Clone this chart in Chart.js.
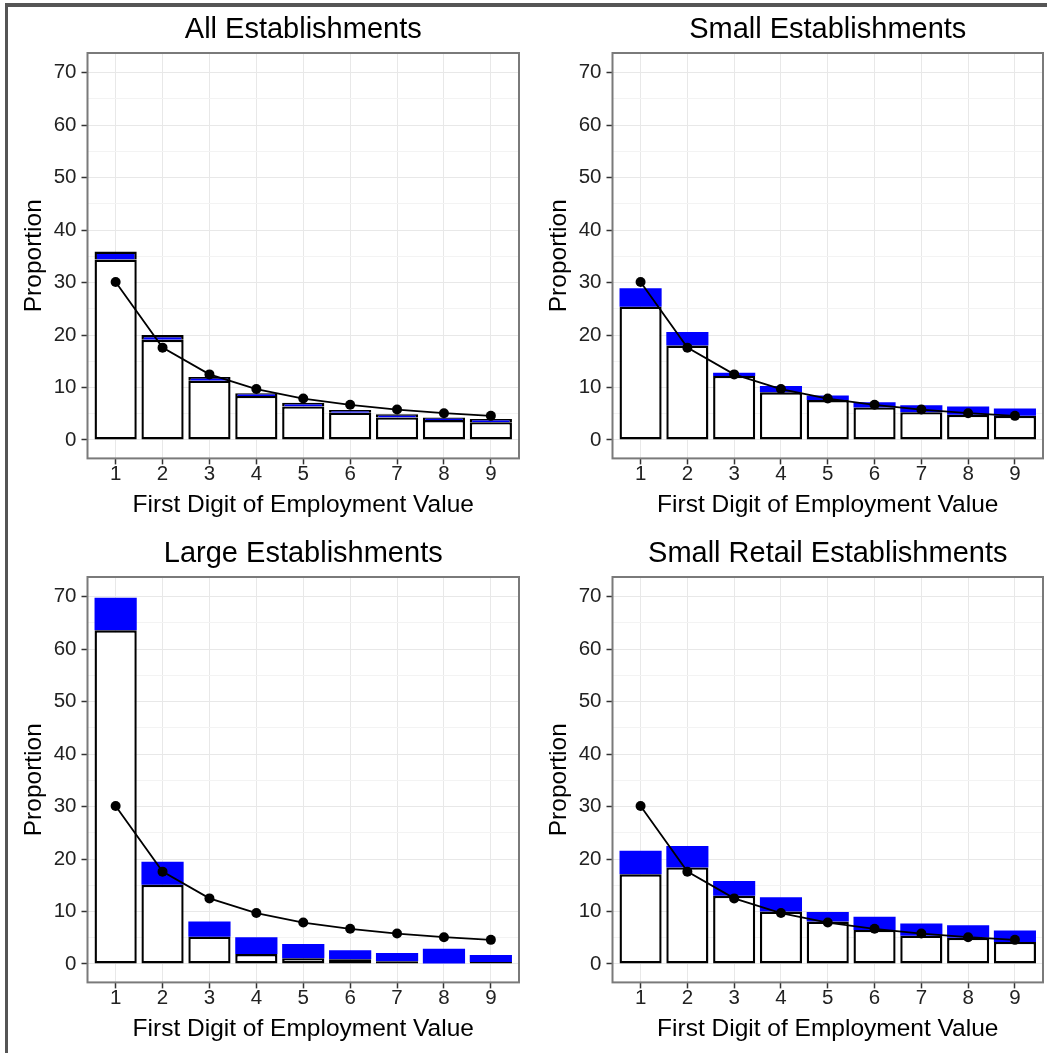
<!DOCTYPE html>
<html>
<head>
<meta charset="utf-8">
<script src="https://cdn.jsdelivr.net/npm/chart.js@4.4.1/dist/chart.umd.min.js"></script>
<style>
  html, body { margin:0; padding:0; background:#fff; overflow:hidden; width:1047px; height:1053px; }
  #frame { position:absolute; left:5px; top:3px; width:1100px; height:1100px; border-top:4px solid #555; border-left:3px solid #555; }
  canvas { position:absolute; }
</style>
</head>
<body>
<div id="frame"></div>
<canvas id="c1" width="517" height="515" style="left:8px;top:8px"></canvas>
<canvas id="c2" width="516" height="515" style="left:533px;top:8px"></canvas>
<canvas id="c3" width="517" height="515" style="left:8px;top:532px"></canvas>
<canvas id="c4" width="516" height="515" style="left:533px;top:532px"></canvas>
<script>
// ---- data ----
const digits = [1, 2, 3, 4, 5, 6, 7, 8, 9];
const benford = [30.1, 17.6, 12.5, 9.7, 7.9, 6.7, 5.8, 5.1, 4.6];

const allLower   = [34.4, 19.1, 11.3, 8.4, 6.4, 5.2, 4.3, 3.8, 3.4];
const allUpper   = [35.9, 20.0, 12.0, 8.9, 7.1, 5.7, 4.9, 4.3, 4.0];
const smallLower = [25.4, 18.0, 12.2, 9.1, 7.6, 6.2, 5.3, 4.8, 4.6];
const smallUpper = [28.9, 20.6, 12.8, 10.3, 8.5, 7.2, 6.6, 6.4, 6.0];
const largeLower = [63.6, 15.1, 5.2, 1.9, 1.1, 0.9, 0.5, 0.1, 0.4];
const largeUpper = [69.8, 19.5, 8.1, 5.1, 3.8, 2.6, 2.1, 2.9, 1.7];
const retailLower = [17.1, 18.4, 13.0, 10.0, 8.1, 6.5, 5.4, 5.0, 4.2];
const retailUpper = [21.6, 22.5, 15.8, 12.7, 9.9, 9.0, 7.7, 7.4, 6.4];

const panelTitles = ["All Establishments", "Small Establishments", "Large Establishments", "Small Retail Establishments"];
const xTicks = [1, 2, 3, 4, 5, 6, 7, 8, 9];
const yTicks = [0, 10, 20, 30, 40, 50, 60, 70];
const yMinorTicks = [5, 15, 25, 35, 45, 55, 65];
const xRange = [0.4, 9.6];
const yRange = [-3.51, 73.75];
const xTitle = "First Digit of Employment Value";
const yTitle = "Proportion";

// ---- drawing ----
const FONT = "'Liberation Sans', Arial, sans-serif";

const panelPlugin = {
  id: 'panelDeco',
  afterDraw(chart, args, opts) {
    const {ctx, chartArea: a} = chart;
    ctx.save();
    ctx.strokeStyle = '#7a7a7a';
    ctx.lineWidth = 2;
    ctx.strokeRect(a.left, a.top, a.right - a.left, a.bottom - a.top);
    ctx.fillStyle = '#000';
    ctx.font = '29px ' + FONT;
    ctx.textAlign = 'center';
    ctx.textBaseline = 'middle';
    ctx.fillText(opts.title, (a.left + a.right) / 2, 22);
    ctx.restore();
  }
};

function makePanel(id, title, lower, upper, blueBorder) {
  const isMinor = v => yMinorTicks.includes(v);
  new Chart(document.getElementById(id), {
    type: 'bar',
    data: {
      datasets: [
        {
          type: 'line',
          data: digits.map((d, i) => ({x: d, y: benford[i]})),
          borderColor: '#000', backgroundColor: '#000',
          borderWidth: 1.8, pointRadius: 5, pointBorderWidth: 0,
          pointBackgroundColor: '#000', tension: 0, order: 0
        },
        {
          type: 'bar',
          data: digits.map((d, i) => ({x: d, y: lower[i]})),
          backgroundColor: '#ffffff', borderColor: '#000', borderWidth: 2.4,
          borderSkipped: false, grouped: false, barPercentage: 0.9, categoryPercentage: 1, order: 1
        },
        {
          type: 'bar',
          data: digits.map((d, i) => ({x: d, y: [lower[i], upper[i]]})),
          backgroundColor: '#0000ff', borderColor: '#000',
          borderWidth: blueBorder ? {top: 2.4, left: 2.4, right: 2.4, bottom: 0} : 0,
          borderSkipped: false, grouped: false, barPercentage: 0.9, categoryPercentage: 1, order: 2
        }
      ]
    },
    options: {
      responsive: false, animation: false, devicePixelRatio: 1,
      layout: {padding: {left: 8, right: 6, top: 45, bottom: 0}},
      plugins: {legend: {display: false}, tooltip: {enabled: false}, title: {display: false}, panelDeco: {title}},
      scales: {
        x: {
          type: 'linear', min: xRange[0], max: xRange[1], offset: false,
          afterBuildTicks: s => { s.ticks = xTicks.map(v => ({value: v})); },
          afterFit: s => { s.height = 64.6; },
          grid: {offset: false, color: '#e8e8e8', lineWidth: 1, tickLength: 6, tickColor: '#333', tickWidth: 1.5},
          border: {display: false},
          ticks: {autoSkip: false, maxRotation: 0, padding: 0, color: '#222',
                  font: {size: 20.5, family: FONT, lineHeight: 1}, callback: v => String(v)},
          title: {display: true, text: xTitle, color: '#000', font: {size: 24.5, family: FONT}, padding: {top: 4, bottom: 3.3}}
        },
        y: {
          type: 'linear', min: yRange[0], max: yRange[1],
          afterBuildTicks: s => { s.ticks = yTicks.concat(yMinorTicks).sort((a, b) => a - b).map(v => ({value: v})); },
          afterFit: s => { s.width = 71.5; },
          grid: {
            color: c => (c.tick && isMinor(c.tick.value)) ? '#f3f3f3' : '#e8e8e8',
            lineWidth: 1, tickLength: 6,
            tickColor: c => (c.tick && isMinor(c.tick.value)) ? 'rgba(0,0,0,0)' : '#333',
            tickWidth: 1.5
          },
          border: {display: false},
          ticks: {autoSkip: false, padding: 5, color: '#222', font: {size: 20.5, family: FONT},
                  callback: v => isMinor(v) ? '' : String(v)},
          title: {display: true, text: yTitle, color: '#000', font: {size: 24.5, family: FONT}, padding: {top: 4, bottom: 4}}
        }
      }
    },
    plugins: [panelPlugin]
  });
}

makePanel('c1', panelTitles[0], allLower, allUpper, true);
makePanel('c2', panelTitles[1], smallLower, smallUpper, false);
makePanel('c3', panelTitles[2], largeLower, largeUpper, false);
makePanel('c4', panelTitles[3], retailLower, retailUpper, false);
</script>
</body>
</html>
